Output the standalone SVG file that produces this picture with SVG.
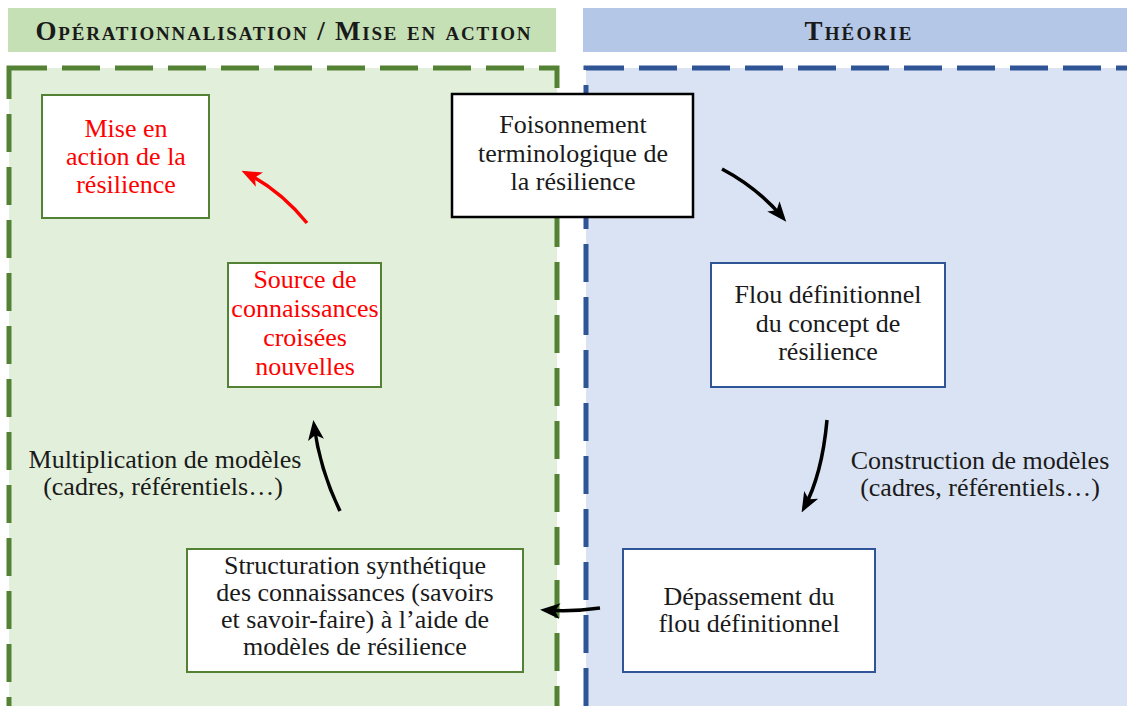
<svg xmlns="http://www.w3.org/2000/svg" width="1127" height="706" viewBox="0 0 1127 706">
<defs>
<style>
.t{font-family:"Liberation Serif","Times New Roman",serif;font-size:26px;fill:#1a1a1a;text-anchor:middle}
.r{fill:#FF0000}
.h{font-family:"Liberation Serif","Times New Roman",serif;font-size:27px;font-weight:bold;font-variant:small-caps;fill:#1a1a1a;text-anchor:middle}
.bg{fill:#FFFFFF;stroke:#548235;stroke-width:2}
.bb{fill:#FFFFFF;stroke:#2F5597;stroke-width:2}
.bk{fill:#FFFFFF;stroke:#000000;stroke-width:2.5}
.ar{fill:none;stroke:#000000;stroke-width:3.5}
.arr{fill:none;stroke:#FF0000;stroke-width:3.5}
</style>
<marker id="mk" markerUnits="userSpaceOnUse" markerWidth="20" markerHeight="20" viewBox="0 0 20 20" refX="15" refY="10" orient="auto">
<path d="M0,2 L20,10 L0,18 L5,10 z" fill="#000000"/>
</marker>
<marker id="mr" markerUnits="userSpaceOnUse" markerWidth="20" markerHeight="20" viewBox="0 0 20 20" refX="15" refY="10" orient="auto">
<path d="M0,2 L20,10 L0,18 L5,10 z" fill="#FF0000"/>
</marker>
</defs>
<rect width="1127" height="706" fill="#FFFFFF"/>
<g id="panel-operationnalisation">
<rect x="8" y="8" width="548" height="44" fill="#C5E0B4"/>
<text class="h" x="283" y="40" textLength="495">Opérationnalisation / Mise en action</text>
<rect x="9" y="68" width="548" height="660" fill="#E2EFDA" stroke="#548235" stroke-width="5" stroke-dasharray="38 15"/>
</g>
<g id="panel-theorie">
<rect x="583" y="8" width="560" height="44" fill="#B4C7E7"/>
<text class="h" x="858" y="40" textLength="107">Théorie</text>
<rect x="586" y="68" width="560" height="660" fill="#DAE3F3" stroke="#2F5597" stroke-width="5" stroke-dasharray="38 15"/>
</g>
<g id="connectors">
<path class="arr" d="M307,223 Q280,190 246,173" marker-end="url(#mr)"/>
<path class="ar" d="M722,169 Q758,188 783,218" marker-end="url(#mk)"/>
<path class="ar" d="M827,420 Q822,475 804,508" marker-end="url(#mk)"/>
<path class="ar" d="M600,608 Q572,612 545,610" marker-end="url(#mk)"/>
<path class="ar" d="M340,511 Q320,470 314,425" marker-end="url(#mk)"/>
</g>
<g id="label-construction">
<text class="t" x="980" y="469">Construction de modèles</text>
<text class="t" x="980" y="496">(cadres, référentiels…)</text>
</g>
<g id="label-multiplication">
<text class="t" x="165" y="468">Multiplication de modèles</text>
<text class="t" x="163" y="495">(cadres, référentiels…)</text>
</g>
<g id="node-mise-en-action">
<rect class="bg" x="42" y="95" width="167" height="123"/>
<text class="t r" x="126" y="137">Mise en</text>
<text class="t r" x="126" y="165">action de la</text>
<text class="t r" x="126" y="193">résilience</text>
</g>
<g id="node-foisonnement">
<rect class="bk" x="452" y="94" width="241" height="123"/>
<text class="t" x="573" y="133">Foisonnement</text>
<text class="t" x="573" y="162">terminologique de</text>
<text class="t" x="573" y="190">la résilience</text>
</g>
<g id="node-source">
<rect class="bg" x="228" y="263" width="153" height="124"/>
<text class="t r" x="305" y="288">Source de</text>
<text class="t r" x="305" y="317">connaissances</text>
<text class="t r" x="305" y="346">croisées</text>
<text class="t r" x="305" y="375">nouvelles</text>
</g>
<g id="node-flou">
<rect class="bb" x="711" y="263" width="234" height="124"/>
<text class="t" x="828" y="303">Flou définitionnel</text>
<text class="t" x="828" y="332">du concept de</text>
<text class="t" x="828" y="360">résilience</text>
</g>
<g id="node-structuration">
<rect class="bg" x="187" y="549" width="336" height="123"/>
<text class="t" x="355" y="574">Structuration synthétique</text>
<text class="t" x="355" y="601">des connaissances (savoirs</text>
<text class="t" x="355" y="628">et savoir-faire) à l’aide de</text>
<text class="t" x="355" y="655">modèles de résilience</text>
</g>
<g id="node-depassement">
<rect class="bb" x="623" y="549" width="252" height="123"/>
<text class="t" x="749" y="605">Dépassement du</text>
<text class="t" x="749" y="632">flou définitionnel</text>
</g>
</svg>
